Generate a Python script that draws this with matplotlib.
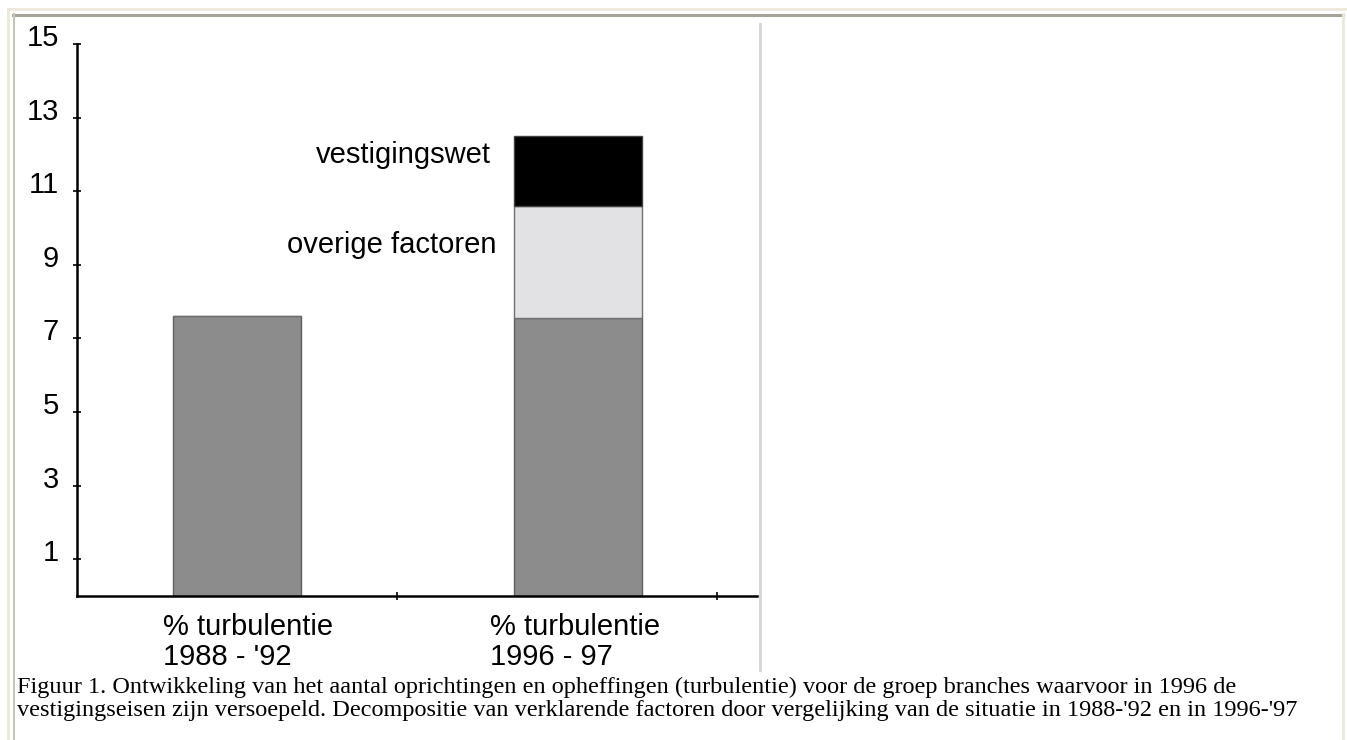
import matplotlib
matplotlib.use('Agg')
import matplotlib.pyplot as plt
import matplotlib.transforms as mtransforms
from matplotlib.lines import Line2D

# data
categories = ['% turbulentie\n1988 - \'92', '% turbulentie\n1996 - 97']
basis = [7.6, 7.55]
overige = [0, 3.05]
vestigingswet = [0, 1.9]
yticks = [1, 3, 5, 7, 9, 11, 13, 15]
segment_labels = ['overige factoren', 'vestigingswet']
caption = ("Figuur 1. Ontwikkeling van het aantal oprichtingen en opheffingen (turbulentie) voor de groep branches waarvoor in 1996 de\n"
           "vestigingseisen zijn versoepeld. Decompositie van verklarende factoren door vergelijking van de situatie in 1988-'92 en in 1996-'97")

W, H = 1347, 740
fig = plt.figure(figsize=(W / 100, H / 100), dpi=100)
fig.patch.set_facecolor('white')

# page frame
def fline(xs, ys, **kw):
    fig.add_artist(Line2D([v / W for v in xs], [1 - v / H for v in ys],
                          transform=fig.transFigure, **kw))

fline([8, 1347], [9, 9], color='#ece9da', lw=2)
fline([8, 8], [9, 740], color='#ece9da', lw=2)
fline([13, 1343], [14.5, 14.5], color='#a4a498', lw=2.2)
fline([13.5, 13.5], [14, 740], color='#c4c4b8', lw=1.5)
fline([1343, 1343], [14, 740], color='#ece8d8', lw=2)
fline([760, 760], [24, 670], color='#d4d4d4', lw=2)

ax = fig.add_axes([77 / W, 1 - 596 / H, (757 - 77) / W, (596 - 44) / H])
x = [0.5, 1.565]
ax.bar(x, basis, width=0.4, color='#8c8c8c', edgecolor='#606060', lw=1)
ax.bar(x, overige, width=0.4, bottom=basis, color='#e2e2e4', edgecolor='#707070', lw=1)
bottom2 = [b + o for b, o in zip(basis, overige)]
ax.bar(x[1], vestigingswet[1], width=0.4, bottom=bottom2[1], color='black', edgecolor='#404040', lw=1)

ax.set_xlim(0, 2.125)
ax.set_ylim(0, 15)
for s in ['top', 'right']:
    ax.spines[s].set_visible(False)
ax.spines['left'].set_linewidth(1.8)
ax.spines['bottom'].set_linewidth(1.8)

ax.set_yticks(yticks)
ax.set_yticklabels([str(v) for v in yticks], fontsize=21, family='Liberation Sans')
ax.tick_params(axis='y', direction='inout', length=6, width=1.2, pad=10)
offset = mtransforms.ScaledTranslation(0, 9 / 100, fig.dpi_scale_trans)
for lab in ax.get_yticklabels():
    lab.set_transform(lab.get_transform() + offset)
ax.set_xticks([1, 2])
ax.set_xticklabels([])
ax.tick_params(axis='x', direction='inout', length=6, width=1.2)

# category labels
cat_x = [0.27, 1.29]
for cx, lab in zip(cat_x, categories):
    ax.text(cx, -0.45, lab, ha='left', va='top', fontsize=21, family='Liberation Sans',
            linespacing=1.12)

# segment labels, left of the stacked bar
ax.text(1.31, 9.55, segment_labels[0], ha='right', va='center',
        fontsize=21, family='Liberation Sans')
ax.text(1.295, 11.99, segment_labels[1], ha='right', va='center',
        fontsize=21, family='Liberation Sans')

fig.text(17 / W, 1 - 677 / H, caption, ha='left', va='top', fontsize=17.5,
         family='Liberation Serif', linespacing=1.1)

fig.savefig('out.png', dpi=100)
